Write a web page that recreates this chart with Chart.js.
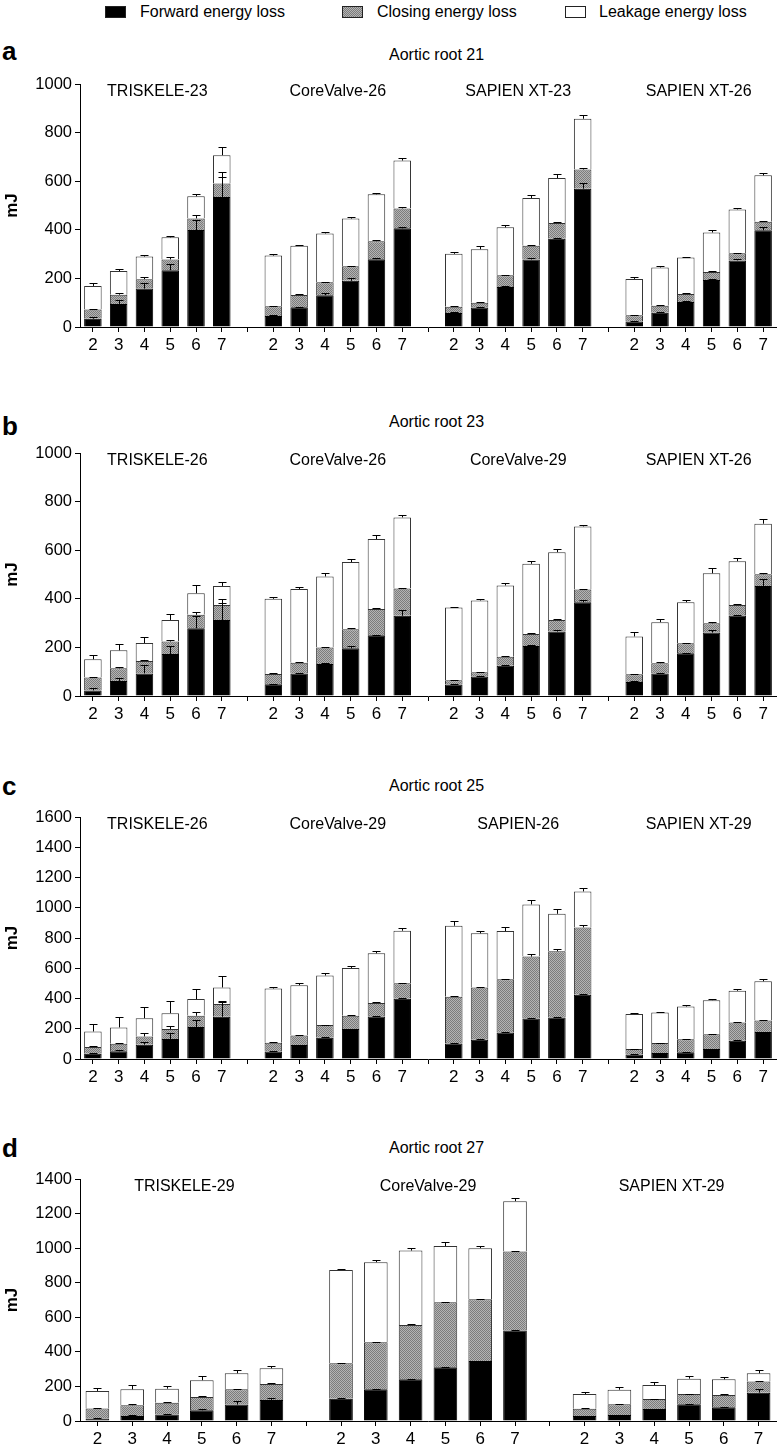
<!DOCTYPE html>
<html>
<head>
<meta charset="utf-8">
<title>Energy loss by aortic root</title>
<script src="https://cdn.jsdelivr.net/npm/chart.js@4.4.1/dist/chart.umd.min.js"></script>
<style>
    html, body { margin: 0; padding: 0; background: #fff; overflow: hidden; }
    body { width: 780px; height: 1445px; position: relative; font-family: "Liberation Sans", Arial, sans-serif; color: #000; }
    canvas { position: absolute; left: 0; }
    .txt { position: absolute; white-space: nowrap; line-height: 1; }
    .letter { font-weight: bold; font-size: 26px; left: 2px; }
    .title { font-size: 16px; left: 389px; }
    .key { position: absolute; top: 6px; width: 21px; height: 12px; border: 1px solid #222; box-sizing: border-box; }
    .ktxt { position: absolute; top: 4px; font-size: 16px; line-height: 1; white-space: nowrap; }
</style>
</head>
<body>

<div class="key" style="left:105px;background:#000"></div>
<div class="ktxt" style="left:140px">Forward energy loss</div>
<div class="key" style="left:342px;background:repeating-conic-gradient(#7c7c7c 0 25%, #b4b4b4 0 50%) 0 0/2px 2px"></div>
<div class="ktxt" style="left:377px">Closing energy loss</div>
<div class="key" style="left:565px;background:#fff"></div>
<div class="ktxt" style="left:599px">Leakage energy loss</div>

<div class="txt letter" style="top:38px">a</div>
<div class="txt title" style="top:47px">Aortic root 21</div>
<div class="txt letter" style="top:413px">b</div>
<div class="txt title" style="top:414px">Aortic root 23</div>
<div class="txt letter" style="top:773px">c</div>
<div class="txt title" style="top:778px">Aortic root 25</div>
<div class="txt letter" style="top:1135px">d</div>
<div class="txt title" style="top:1140px">Aortic root 27</div>

<canvas id="panelA" width="780" height="311" style="top:40px"></canvas>
<canvas id="panelB" width="780" height="320" style="top:400px"></canvas>
<canvas id="panelC" width="780" height="323" style="top:760px"></canvas>
<canvas id="panelD" width="780" height="325" style="top:1120px"></canvas>

<script>
// heart-rate levels on the x axis of every group
const levels = ['2', '3', '4', '5', '6', '7'];

// panel a - aortic root 21
const groupsA = ['TRISKELE-23', 'CoreValve-26', 'SAPIEN XT-23', 'SAPIEN XT-26'];
const forwardA = [[34, 95, 158, 234, 399, 535], [45, 81, 131, 190, 279, 406], [58, 80, 165, 278, 363, 569], [23, 59, 103, 193, 274, 398]];
const closingA = [[38, 38, 39, 44, 48, 56], [40, 51, 53, 60, 74, 82], [25, 20, 48, 56, 65, 79], [25, 28, 33, 33, 29, 35]];
const leakageA = [[97, 97, 93, 91, 91, 116], [209, 202, 201, 196, 193, 197], [218, 220, 197, 197, 185, 209], [150, 158, 150, 163, 181, 191]];
const forwardSdA = [[7, 15, 25, 27, 41, 81], [3, 3, 7, 12, 3, 5], [3, 3, 4, 8, 4, 25], [2, 3, 3, 3, 4, 12]];
const closingSdA = [[4, 7, 9, 11, 12, 46], [3, 3, 3, 3, 3, 4], [3, 3, 3, 4, 3, 5], [2, 3, 3, 3, 2, 3]];
const leakageSdA = [[13, 8, 8, 6, 11, 34], [6, 3, 8, 8, 7, 11], [8, 14, 8, 11, 16, 16], [6, 7, 3, 9, 6, 11]];

// panel b - aortic root 23
const groupsB = ['TRISKELE-26', 'CoreValve-26', 'CoreValve-29', 'SAPIEN XT-26'];
const forwardB = [[23, 62, 93, 173, 279, 313], [48, 93, 132, 196, 250, 330], [47, 80, 125, 206, 265, 386], [58, 93, 176, 261, 331, 453]];
const closingB = [[53, 52, 51, 51, 55, 62], [43, 44, 68, 79, 108, 112], [18, 18, 37, 49, 48, 52], [31, 42, 41, 38, 43, 48]];
const leakageB = [[75, 74, 74, 89, 89, 78], [309, 303, 292, 276, 288, 293], [299, 295, 293, 289, 279, 260], [156, 169, 169, 206, 181, 208]];
const forwardSdB = [[8, 11, 35, 34, 51, 85], [3, 3, 3, 10, 3, 24], [2, 2, 3, 3, 5, 10], [3, 3, 3, 11, 4, 28]];
const closingSdB = [[3, 4, 4, 7, 11, 8], [3, 3, 3, 3, 3, 3], [2, 2, 3, 3, 3, 3], [3, 3, 3, 4, 3, 4]];
const leakageSdB = [[18, 25, 26, 25, 32, 15], [8, 8, 13, 12, 17, 10], [4, 5, 9, 11, 12, 5], [17, 13, 11, 20, 14, 20]];

// panel c - aortic root 25
const groupsC = ['TRISKELE-26', 'CoreValve-29', 'SAPIEN-26', 'SAPIEN XT-29'];
const forwardC = [[35, 51, 95, 132, 211, 279], [50, 92, 141, 198, 281, 398], [103, 128, 176, 268, 275, 424], [29, 40, 44, 66, 120, 178]];
const closingC = [[44, 50, 54, 66, 75, 84], [58, 64, 83, 88, 90, 103], [308, 345, 351, 409, 437, 446], [37, 65, 86, 97, 122, 77]];
const leakageC = [[103, 108, 121, 105, 110, 110], [358, 332, 328, 316, 328, 347], [470, 358, 319, 345, 248, 238], [231, 203, 217, 226, 209, 259]];
const forwardSdC = [[5, 10, 20, 39, 48, 99], [3, 3, 3, 3, 3, 3], [3, 3, 3, 4, 5, 4], [2, 2, 2, 2, 3, 3]];
const closingSdC = [[8, 8, 22, 17, 22, 19], [3, 3, 3, 3, 3, 3], [3, 3, 3, 18, 13, 16], [2, 2, 2, 3, 3, 3]];
const leakageSdC = [[49, 66, 77, 79, 70, 79], [7, 13, 19, 11, 13, 16], [31, 15, 24, 26, 29, 24], [8, 6, 11, 11, 11, 13]];

// panel d - aortic root 27
const groupsD = ['TRISKELE-29', 'CoreValve-29', 'SAPIEN XT-29'];
const forwardD = [[15, 29, 37, 62, 95, 122], [129, 183, 241, 311, 347, 523], [29, 35, 69, 97, 79, 164]];
const closingD = [[58, 62, 69, 77, 88, 92], [205, 273, 315, 376, 358, 458], [42, 62, 58, 59, 72, 64]];
const leakageD = [[101, 92, 81, 97, 93, 91], [540, 463, 430, 325, 295, 291], [85, 84, 81, 89, 90, 48]];
const forwardSdD = [[4, 3, 3, 6, 19, 13], [3, 3, 3, 3, 3, 3], [2, 2, 3, 3, 3, 20]];
const closingSdD = [[4, 6, 3, 8, 4, 8], [3, 3, 3, 3, 3, 3], [2, 3, 3, 3, 3, 6]];
const leakageSdD = [[19, 25, 16, 25, 21, 15], [6, 10, 12, 21, 15, 16], [14, 18, 16, 16, 12, 19]];

const FONT = '"Liberation Sans", Arial, sans-serif';

// groups are separated by one empty category (it still gets a tick mark)
function flatten(groups) {
    const out = [];
    groups.forEach((g, i) => {
        out.push(...g);
        if (i < groups.length - 1) out.push(null);
    });
    return out;
}

function makeLabels(count) {
    const out = [];
    for (let i = 0; i < count; i++) {
        out.push(...levels);
        if (i < count - 1) out.push('');
    }
    return out;
}

function closingPattern(canvas) {
    const tile = document.createElement('canvas');
    tile.width = tile.height = 2;
    const g = tile.getContext('2d');
    g.fillStyle = '#b4b4b4';
    g.fillRect(0, 0, 2, 2);
    g.fillStyle = '#7c7c7c';
    g.fillRect(0, 0, 1, 1);
    g.fillRect(1, 1, 1, 1);
    return canvas.getContext('2d').createPattern(tile, 'repeat');
}

// one-sided (upper) error bars on top of every stacked segment
const errorBarPlugin = {
    id: 'errorBars',
    afterDatasetsDraw(chart, args, opts) {
        const ctx = chart.ctx;
        const yScale = chart.scales.y;
        const sets = chart.data.datasets;
        ctx.save();
        ctx.strokeStyle = '#000';
        ctx.lineWidth = 1;
        sets.forEach((ds, i) => {
            const meta = chart.getDatasetMeta(i);
            meta.data.forEach((bar, j) => {
                const sd = opts.sd[i][j];
                if (sd == null || ds.data[j] == null) return;
                let top = 0;
                for (let k = 0; k <= i; k++) top += sets[k].data[j];
                const x = Math.round(bar.x) + 0.5;
                const yErr = Math.round(yScale.getPixelForValue(top + sd)) + 0.5;
                ctx.beginPath();
                ctx.moveTo(x, bar.y);
                ctx.lineTo(x, yErr);
                ctx.moveTo(x - 4, yErr);
                ctx.lineTo(x + 4, yErr);
                ctx.stroke();
            });
        });
        ctx.restore();
    }
};

// valve names above each group of six bars
const groupLabelPlugin = {
    id: 'groupLabels',
    afterDraw(chart, args, opts) {
        const { ctx, chartArea } = chart;
        const xScale = chart.scales.x;
        ctx.save();
        ctx.font = '16px ' + FONT;
        ctx.fillStyle = '#000';
        ctx.textAlign = 'center';
        ctx.textBaseline = 'alphabetic';
        opts.names.forEach((name, g) => {
            const first = g * 7;
            const cx = (xScale.getPixelForValue(first) + xScale.getPixelForValue(first + 5)) / 2;
            ctx.fillText(name, cx, chartArea.top + 12);
        });
        ctx.restore();
    }
};

function makePanel(id, opts) {
    const canvas = document.getElementById(id);
    const labels = makeLabels(opts.groups.length);
    const fwd = flatten(opts.forward);
    const clo = flatten(opts.closing);
    const lea = flatten(opts.leakage);

    return new Chart(canvas, {
        type: 'bar',
        data: {
            labels: labels,
            datasets: [
                { label: 'Forward energy loss', data: fwd, backgroundColor: '#000', borderColor: '#000', borderWidth: 1 },
                { label: 'Closing energy loss', data: clo, backgroundColor: closingPattern(canvas), borderColor: '#333', borderWidth: 1 },
                { label: 'Leakage energy loss', data: lea, backgroundColor: '#fff', borderColor: '#333', borderWidth: 1 }
            ]
        },
        options: {
            responsive: false,
            devicePixelRatio: 1,
            animation: false,
            barPercentage: 0.68,
            categoryPercentage: 1,
            layout: { padding: { top: opts.padTop, right: 4, left: 0, bottom: 0 } },
            plugins: {
                legend: { display: false },
                tooltip: { enabled: false },
                errorBars: { sd: [flatten(opts.sd[0]), flatten(opts.sd[1]), flatten(opts.sd[2])] },
                groupLabels: { names: opts.groups }
            },
            scales: {
                x: {
                    stacked: true,
                    afterFit: s => { s.height = 24; },
                    grid: { display: true, drawOnChartArea: false, drawTicks: true, tickLength: 5, offset: false, color: '#000' },
                    border: { display: true, color: '#000', width: 1 },
                    ticks: { color: '#000', font: { family: FONT, size: 17 }, padding: 3, maxRotation: 0, autoSkip: false }
                },
                y: {
                    stacked: true,
                    min: 0,
                    max: opts.max,
                    afterFit: s => { s.width = 80; },
                    grid: { display: true, drawOnChartArea: false, drawTicks: true, tickLength: 5, color: '#000' },
                    border: { display: true, color: '#000', width: 1 },
                    ticks: { stepSize: 200, color: '#000', font: { family: FONT, size: 16.5 }, padding: 3, callback: v => String(v) },
                    title: { display: true, text: 'mJ', color: '#000', font: { family: FONT, size: 17, weight: 'bold' }, padding: 2 }
                }
            }
        },
        plugins: [errorBarPlugin, groupLabelPlugin]
    });
}

makePanel('panelA', { groups: groupsA, forward: forwardA, closing: closingA, leakage: leakageA, sd: [forwardSdA, closingSdA, leakageSdA], max: 1000, padTop: 44 });
makePanel('panelB', { groups: groupsB, forward: forwardB, closing: closingB, leakage: leakageB, sd: [forwardSdB, closingSdB, leakageSdB], max: 1000, padTop: 53 });
makePanel('panelC', { groups: groupsC, forward: forwardC, closing: closingC, leakage: leakageC, sd: [forwardSdC, closingSdC, leakageSdC], max: 1600, padTop: 57 });
makePanel('panelD', { groups: groupsD, forward: forwardD, closing: closingD, leakage: leakageD, sd: [forwardSdD, closingSdD, leakageSdD], max: 1400, padTop: 59 });
</script>
</body>
</html>
